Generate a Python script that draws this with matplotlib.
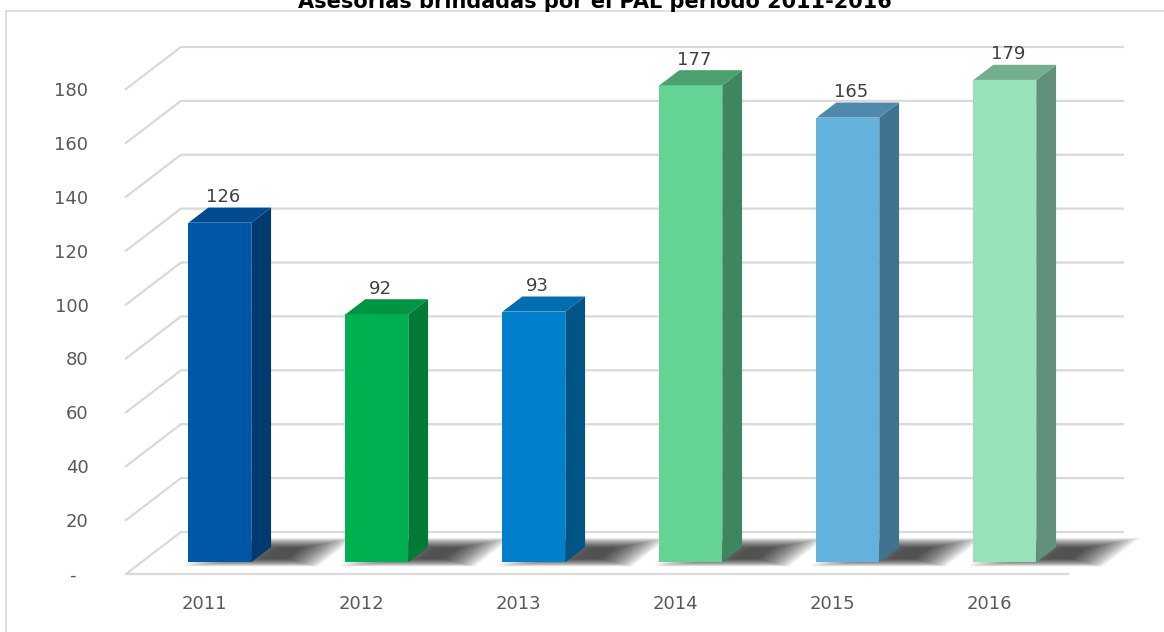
import matplotlib.pyplot as plt
from matplotlib.patches import Polygon
from matplotlib.lines import Line2D

years = ["2011", "2012", "2013", "2014", "2015", "2016"]
asesorias = [126, 92, 93, 177, 165, 179]
yticks = [0, 20, 40, 60, 80, 100, 120, 140, 160, 180]
ytick_labels = ["-  "] + [str(t) for t in yticks[1:]]

front_colors = ["#0057A8", "#00B050", "#0080CC", "#66D396", "#63B2DC", "#98E2BA"]
top_colors = ["#004A8F", "#009443", "#006DAE", "#4CA06F", "#4F8AAE", "#74AE8E"]
side_colors = ["#003A6F", "#007A37", "#005586", "#3F8660", "#3F7390", "#61917A"]

GRID = "#D9D9D9"
TXT = "#595959"

# depth vector of the fake 3d box (category units, value units)
DX, DY = 0.35, 15.6
F0, F1 = 0.28, 0.64   # bar front/back depth fractions
W = 0.40

W_PX, H_PX = 1164, 632
fig = plt.figure(figsize=(W_PX / 100, H_PX / 100), dpi=100)
ax = fig.add_axes([126 / W_PX, (H_PX - 574) / H_PX, 942 / W_PX, (574 - 89) / H_PX])
ax.set_xlim(-0.5, len(years) - 0.5)
ax.set_ylim(0, 180)
for s in ax.spines.values():
    s.set_visible(False)

x0, x1 = -0.5, len(years) - 0.5


def floor_quad(xa, xb, da, db):
    return [(xa + da * DX, da * DY), (xb + da * DX, da * DY),
            (xb + db * DX, db * DY), (xa + db * DX, db * DY)]


def lerp(a, b, t):
    return a + t * (b - a)


# walls / gridlines
for t in yticks:
    ax.add_line(Line2D([x0, x0 + DX, x1 + DX], [t, t + DY, t + DY],
                       color=GRID, lw=1.6, clip_on=False, zorder=1))
ax.add_line(Line2D([x0, x1], [0, 0], color=GRID, lw=1.6, clip_on=False, zorder=1))

for i, v in enumerate(asesorias):
    xl = i + F0 * DX - W / 2
    xr = xl + W
    ddx = (F1 - F0) * DX
    # soft shadow on the floor: many faint quads shrinking toward the bar's right foot
    n = 24
    for k in range(n):
        t = k / (n - 1)
        xa = lerp(xl - 0.10, xr - 0.05, t)
        xb = lerp(xr + 0.36, xr + 0.10, t)
        da = lerp(F0 - 0.10, F0 + 0.08, t)
        db = lerp(F1 + 0.22, F1 - 0.02, t)
        ax.add_patch(Polygon(floor_quad(xa, xb, da, db), closed=True, facecolor="black",
                             edgecolor="none", alpha=0.045, clip_on=False, zorder=2))
    yb = F0 * DY
    ax.add_patch(Polygon([(xl, yb), (xr, yb), (xr, yb + v), (xl, yb + v)],
                         facecolor=front_colors[i], edgecolor="none", zorder=4, clip_on=False))
    ax.add_patch(Polygon([(xr, yb), (xr + ddx, F1 * DY), (xr + ddx, F1 * DY + v), (xr, yb + v)],
                         facecolor=side_colors[i], edgecolor="none", zorder=4, clip_on=False))
    ax.add_patch(Polygon([(xl, yb + v), (xr, yb + v), (xr + ddx, F1 * DY + v), (xl + ddx, F1 * DY + v)],
                         facecolor=top_colors[i], edgecolor="none", zorder=4, clip_on=False))
    ax.text((xl + xr) / 2 + 0.02, F1 * DY + v + 0.5, str(v), ha="center", va="bottom",
            fontsize=13, color="#404040", zorder=5, clip_on=False)

ax.set_yticks(yticks)
ax.set_yticklabels(ytick_labels)
ax.set_xticks(range(len(years)))
ax.set_xticklabels(years)
ax.tick_params(axis="y", length=0, pad=27, labelsize=13, labelcolor=TXT)
ax.tick_params(axis="x", length=0, pad=15, labelsize=13, labelcolor=TXT)

# chart area border (partly outside the picture)
fig.add_artist(Line2D([6 / W_PX, 6 / W_PX], [0, 1 - 11 / H_PX], color=GRID, lw=1.2))
fig.add_artist(Line2D([6 / W_PX, 1], [1 - 11 / H_PX, 1 - 11 / H_PX], color=GRID, lw=1.2))

fig.text(595 / W_PX, 1 - 8 / H_PX, "Asesorías brindadas por el PAL período 2011-2016",
         ha="center", va="baseline", fontsize=15, fontweight="bold", color="black")

fig.savefig("out.png", dpi=100)
